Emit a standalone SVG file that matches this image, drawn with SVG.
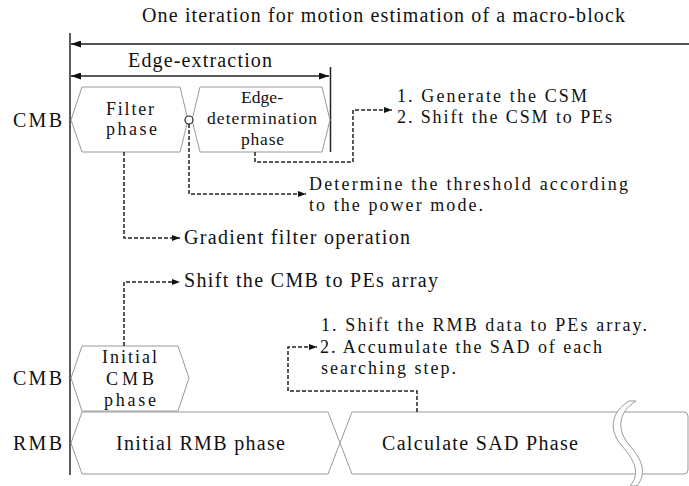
<svg xmlns="http://www.w3.org/2000/svg" width="689" height="486" viewBox="0 0 689 486">
<defs>
<style>
.t{font-family:'Liberation Serif','DejaVu Serif',serif;font-size:20px;fill:#111}
.m{font-size:18px}
.sm{font-size:17.5px}
.hex{fill:#fff;stroke:#999;stroke-width:1}
.dash{fill:none;stroke:#222;stroke-width:1.5;stroke-dasharray:4 2}
.axis{fill:none;stroke:#333;stroke-width:1.6}
.dim{fill:none;stroke:#222;stroke-width:1.5}
</style>
<marker id="a" viewBox="0 0 8 6" refX="8" refY="3" markerWidth="8" markerHeight="6" orient="auto" markerUnits="userSpaceOnUse"><path d="M0,0 L8,3 L0,6 z" fill="#111"/></marker>
<marker id="d" viewBox="0 0 10 7" refX="10" refY="3.5" markerWidth="10" markerHeight="7" orient="auto-start-reverse" markerUnits="userSpaceOnUse"><path d="M0,0 L10,3.5 L0,7 z" fill="#111"/></marker>
</defs>

<g id="title" class="t" font-family="Liberation Serif, serif">
<text x="142" y="22" textLength="483" lengthAdjust="spacing">One iteration for motion estimation of a macro-block</text>
<path d="M689,44 H71" fill="none" stroke="#555" stroke-width="2" marker-end="url(#d)"/>
</g>
<line class="axis" x1="70" y1="33" x2="70" y2="475"/>

<g id="edge-extraction" class="t" font-family="Liberation Serif, serif">
<text x="128" y="67" textLength="144" lengthAdjust="spacing">Edge-extraction</text>
<path class="dim" d="M71,76 H329" marker-start="url(#d)" marker-end="url(#d)"/>
<line x1="330.5" y1="67" x2="330.5" y2="152" stroke="#222" stroke-width="1.5"/>
</g>

<g id="row-labels" class="t" font-family="Liberation Serif, serif">
<text x="13" y="127" textLength="49" lengthAdjust="spacing">CMB</text>
<text x="13" y="385" textLength="49" lengthAdjust="spacing">CMB</text>
<text x="13" y="450" textLength="49" lengthAdjust="spacing">RMB</text>
</g>

<g id="filter-phase" class="t" font-family="Liberation Serif, serif">
<polygon class="hex" points="71,120 82,87 180,87 188,120 180,152 82,152"/>
<text class="m" x="106" y="115" textLength="48" lengthAdjust="spacing">Filter</text>
<text class="m" x="106" y="135" textLength="51" lengthAdjust="spacing">phase</text>
</g>

<g id="edge-determination-phase" class="t" font-family="Liberation Serif, serif">
<polygon class="hex" points="192,120 200,87 322,87 330,120 322,152 200,152"/>
<text class="sm" x="241" y="103" textLength="42" lengthAdjust="spacing">Edge-</text>
<text class="sm" x="207" y="124" textLength="110" lengthAdjust="spacing">determination</text>
<text class="sm" x="241" y="145" textLength="43" lengthAdjust="spacing">phase</text>
</g>

<g id="initial-cmb-phase" class="t" font-family="Liberation Serif, serif">
<polygon class="hex" points="71,378 82,346 178,346 189,378 178,411 82,411"/>
<text class="m" x="102" y="363" textLength="55" lengthAdjust="spacing">Initial</text>
<text class="m" x="106" y="385" textLength="48" lengthAdjust="spacing">CMB</text>
<text class="m" x="104" y="406" textLength="52" lengthAdjust="spacing">phase</text>
</g>

<g id="initial-rmb-phase" class="t" font-family="Liberation Serif, serif">
<polygon class="hex" points="71,443 82,412 328,412 340,443 328,474 82,474"/>
<text x="116" y="450" textLength="169" lengthAdjust="spacing">Initial RMB phase</text>
</g>

<g id="calculate-sad-phase" class="t" font-family="Liberation Serif, serif">
<path class="hex" d="M340,443 L352,412 H684 Q688,412 688,416 V470 Q688,474 684,474 H352 Z"/>
<text x="382" y="450" textLength="196" lengthAdjust="spacing">Calculate SAD Phase</text>
<path d="M629,401 L636,401 C618,412 616,430 630,446 C644,462 646,474 637,486 L630,486 C640,474 636,462 622,446 C608,430 611,412 629,401 Z" fill="#fff" stroke="#999" stroke-width="1"/>
</g>

<g id="annotations" class="t" font-family="Liberation Serif, serif">
<text class="m" x="397" y="102" textLength="190" lengthAdjust="spacing">1. Generate the CSM</text>
<text class="m" x="397" y="123" textLength="215" lengthAdjust="spacing">2. Shift the CSM to PEs</text>
<text class="m" x="309" y="190" textLength="319" lengthAdjust="spacing">Determine the threshold according</text>
<text class="m" x="309" y="211" textLength="174" lengthAdjust="spacing">to the power mode.</text>
<text x="184" y="244" textLength="226" lengthAdjust="spacing">Gradient filter operation</text>
<text x="184" y="287" textLength="254" lengthAdjust="spacing">Shift the CMB to PEs array</text>
<text class="m" x="321" y="331" textLength="326" lengthAdjust="spacing">1. Shift the RMB data to PEs array.</text>
<text class="m" x="320" y="353" textLength="282" lengthAdjust="spacing">2. Accumulate the SAD of each</text>
<text class="m" x="321" y="374" textLength="135" lengthAdjust="spacing">searching step.</text>
</g>

<g id="connectors">
<circle cx="189" cy="120" r="4" fill="#fff" stroke="#222" stroke-width="1.2"/>
<path class="dash" d="M255,152 V162 H353 V110 H392" marker-end="url(#a)"/>
<path class="dash" d="M189,124 V194 H306" marker-end="url(#a)"/>
<path class="dash" d="M124,152 V238 H180" marker-end="url(#a)"/>
<path class="dash" d="M124,346 V282 H180" marker-end="url(#a)"/>
<path class="dash" d="M417,412 V391 H288 V347 H317" marker-end="url(#a)"/>
</g>
</svg>
